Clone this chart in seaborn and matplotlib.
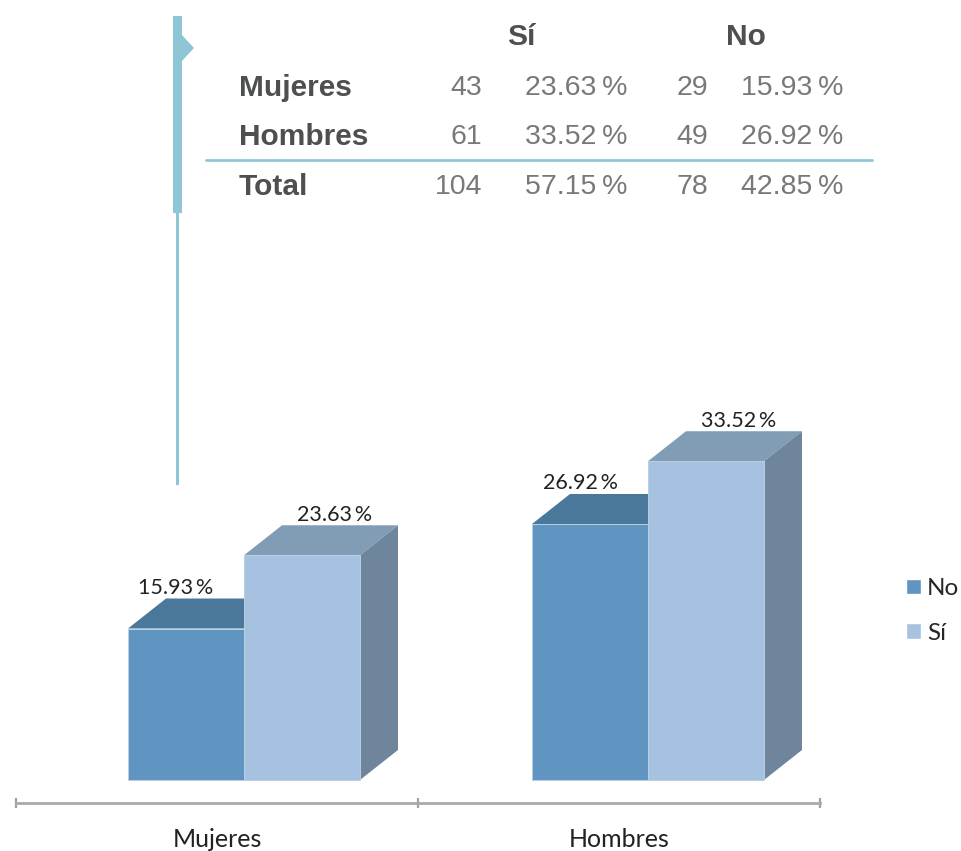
import matplotlib
matplotlib.use("Agg")
import matplotlib.pyplot as plt
import pandas as pd
import seaborn as sns
from matplotlib.patches import Polygon, Rectangle

# datos del grafico
generos = ["Mujeres", "Hombres"]
respuestas = ["No", "Sí"]
pct_no = [15.93, 26.92]
pct_si = [23.63, 33.52]

# datos de la tabla
filas = ["Mujeres", "Hombres", "Total"]
n_si = [43, 61, 104]
p_si = [23.63, 33.52, 57.15]
n_no = [29, 49, 78]
p_no = [15.93, 26.92, 42.85]

W, H = 961, 851
AZUL = "#8fc6d6"
colores = {"No": "#5f95c0", "Sí": "#a6c2e0"}
techo = {"No": "#49789b", "Sí": "#819cb5"}
lado = "#6f859c"

sns.set_style("white")
plt.rcParams["font.family"] = ["Lato", "DejaVu Sans"]

fig = plt.figure(figsize=(W / 100, H / 100), dpi=100)

# capa en pixeles para la tabla y la barra azul
capa = fig.add_axes([0, 0, 1, 1])
capa.set_xlim(0, W)
capa.set_ylim(H, 0)
capa.axis("off")

capa.add_patch(Rectangle((173, 16), 9, 197, color=AZUL, lw=0))
capa.add_patch(Rectangle((176, 213), 3, 272, color=AZUL, lw=0))
capa.add_patch(Polygon([(182, 35), (194, 48), (182, 61)], color=AZUL, lw=0))
capa.plot([206, 872], [160, 160], color=AZUL, lw=2)

tabla_fuente = ["Liberation Sans", "DejaVu Sans"]
gris_fuerte = "#4d4f51"
gris_suave = "#767879"
t_neg = 21.5
t_num = 20.5
capa.text(521, 37, "Sí", ha="center", va="center", fontsize=t_neg, fontweight="bold",
          color=gris_fuerte, family=tabla_fuente)
capa.text(746, 37, "No", ha="center", va="center", fontsize=t_neg, fontweight="bold",
          color=gris_fuerte, family=tabla_fuente)
for i, fila in enumerate(filas):
    y = [88, 137, 187][i]
    capa.text(239, y, fila, ha="left", va="center", fontsize=t_neg, fontweight="bold",
              color=gris_fuerte, family=tabla_fuente)
    capa.text(482, y, str(n_si[i]), ha="right", va="center", fontsize=t_num,
              color=gris_suave, family=tabla_fuente)
    capa.text(627, y, f"{p_si[i]:.2f}\u2009%", ha="right", va="center", fontsize=t_num,
              color=gris_suave, family=tabla_fuente)
    capa.text(708, y, str(n_no[i]), ha="right", va="center", fontsize=t_num,
              color=gris_suave, family=tabla_fuente)
    capa.text(843, y, f"{p_no[i]:.2f}\u2009%", ha="right", va="center", fontsize=t_num,
              color=gris_suave, family=tabla_fuente)

# grafico: el eje queda por debajo del plano de las barras
df = pd.DataFrame({
    "genero": generos * 2,
    "respuesta": ["No"] * 2 + ["Sí"] * 2,
    "pct": pct_no + pct_si,
})

px_y = 9.51  # pixeles por punto porcentual
ax_top, ax_bottom, ax_left, ax_right = 380, 803, 16, 820
ax = fig.add_axes([ax_left / W, 1 - ax_bottom / H, (ax_right - ax_left) / W, (ax_bottom - ax_top) / H])
ax.patch.set_alpha(0)

sns.barplot(data=df, x="genero", y="pct", hue="respuesta", order=generos, hue_order=respuestas,
            palette=colores, width=0.577, gap=0, saturation=1, ax=ax)
ax.set_xlim(-0.5, 1.5)
ax.set_ylim(-(ax_bottom - 780) / px_y, (780 - ax_top) / px_y)

px_x = (ax_right - ax_left) / 2
desplaza = [27 / px_x, 29 / px_x]
dx, dy = 38 / px_x, 30 / px_y

for cont, resp in zip(ax.containers, respuestas):
    for j, bar in enumerate(cont):
        bar.set_x(bar.get_x() + desplaza[j])
        bar.set_edgecolor("#b9cfe2")
        bar.set_linewidth(0.7)
        bar.set_zorder(3 if resp == "Sí" else 2)
        x0, x1, h = bar.get_x(), bar.get_x() + bar.get_width(), bar.get_height()
        z = 2.5 if resp == "Sí" else 1.5
        ax.add_patch(Polygon([(x0, h), (x1, h), (x1 + dx, h + dy), (x0 + dx, h + dy)],
                             color=techo[resp], lw=0, zorder=z))
        if resp == "Sí":
            ax.add_patch(Polygon([(x1, 0), (x1 + dx, dy), (x1 + dx, h + dy), (x1, h)],
                                 color=lado, lw=0, zorder=z))
        off = 33 if resp == "Sí" else -10
        ax.annotate(f"{h:.2f}\u2009%", (x0 + bar.get_width() / 2, h + dy), xytext=(off * 0.72, 0.5),
                    textcoords="offset points", ha="center", va="bottom", fontsize=15.5,
                    color="#222222", zorder=5)

# eje inferior
sns.despine(ax=ax, left=True)
ax.set_xlabel("")
ax.set_ylabel("")
ax.set_yticks([])
ax.spines["bottom"].set_color("#a9a9a9")
ax.spines["bottom"].set_linewidth(2)
ax.set_xticks([-0.5, 0.5, 1.5], minor=True)
ax.tick_params(axis="x", which="minor", direction="inout", bottom=True, length=7, width=1.6, color="#a0a0a0")
ax.tick_params(axis="x", which="major", bottom=False, labelsize=18, pad=14.5, labelcolor="#222222")

# leyenda
sns.move_legend(ax, loc="center left", bbox_to_anchor=((906 - ax_left) / (ax_right - ax_left), (803 - 611) / (803 - ax_top)),
                frameon=False, title=None, fontsize=17.5, handlelength=0.62, handleheight=0.62,
                handletextpad=0.25, labelspacing=0.98, borderpad=0, borderaxespad=0)

fig.savefig("out.png", dpi=100)
